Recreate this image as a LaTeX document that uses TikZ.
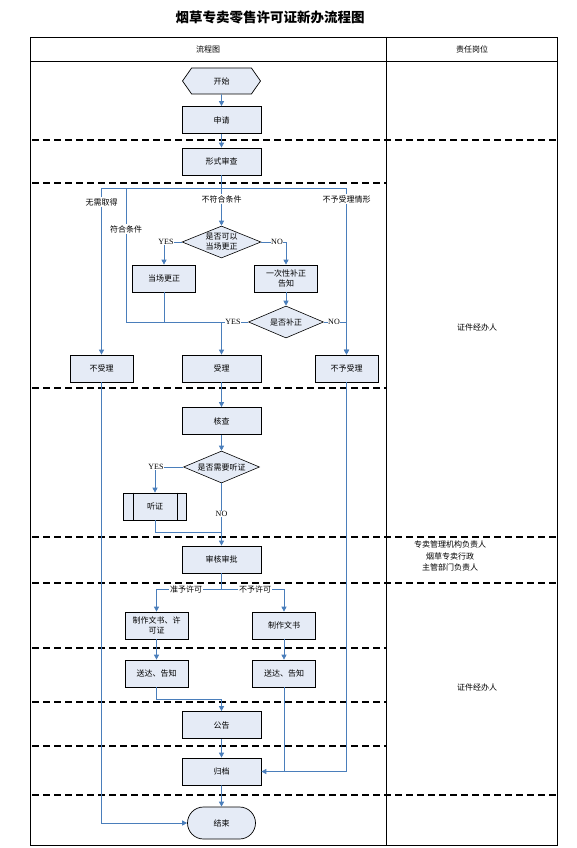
\documentclass[tikz,border=0pt]{standalone}
\usepackage{fontspec}
\setmainfont{Liberation Serif}
\newfontfamily\cjk{Noto Sans CJK SC}
\usetikzlibrary{arrows.meta, shapes.geometric, shapes.symbols, shapes.misc, calc}
\definecolor{lineblue}{RGB}{74,126,187}
\definecolor{boxfill}{RGB}{229,235,246}

\begin{document}
\begin{tikzpicture}[x=1pt, y=-1pt,
    txt/.style={font=\cjk\fontsize{8}{10}\selectfont, align=center},
    box/.style={txt, draw, fill=boxfill, line width=0.7pt, minimum width=79pt, minimum height=27pt, inner sep=1pt},
    sbox/.style={box, minimum width=63pt},
    dia/.style={txt, draw, fill=boxfill, line width=0.6pt, shape=diamond, inner sep=0pt, minimum width=79pt, minimum height=32pt, aspect=2.4},
    flow/.style={draw=lineblue, line width=0.8pt},
    arr/.style={flow, -{Triangle[length=5pt, width=5pt]}},
    lab/.style={txt, fill=white, inner sep=1pt},
    yn/.style={font=\fontsize{8}{9}\selectfont, fill=white, inner sep=0.5pt},
    laneline/.style={line width=1.4pt, dash pattern=on 7pt off 4pt}]
    \useasboundingbox (0,0) rectangle (576,848);

    \node[font=\cjk\bfseries\fontsize{13.5}{15}\selectfont] (title) at (270,17) {烟草专卖零售许可证新办流程图};
    \draw[line width=0.8pt] (30,37) rectangle (557,845);
    \draw[line width=0.8pt] (30,61) -- (557,61);
    \draw[line width=0.8pt] (386,37) -- (386,845);
    \node[txt] (hflow) at (208,49) {流程图};
    \node[txt] (hpost) at (472,49) {责任岗位};

    \foreach \y in {183, 388, 648, 702, 746} {
        \draw[laneline] (32,\y) -- (386,\y);
    }
    \foreach \y in {140, 537, 583, 795} {
        \draw[laneline] (32,\y) -- (557,\y);
    }

    \node[box, shape=signal, signal to=west and east, signal pointer angle=110, minimum width=78pt, minimum height=26pt] (start) at (221.5,81) {开始};
    \node[box] (apply) at (221.5,120) {申请};
    \node[box] (formal) at (221.5,161.5) {形式审查};
    \node[dia] (dia1) at (221.5,242) {是否可以\\当场更正};
    \node[sbox] (fix) at (164,278.5) {当场更正};
    \node[sbox] (notice) at (286,278.5) {一次性补正\\告知};
    \node[dia, minimum width=75pt] (dia2) at (286,322) {是否补正};
    \node[sbox] (reject) at (101.5,368.5) {不受理};
    \node[box] (accept) at (221.5,368.5) {受理};
    \node[sbox] (refuse) at (346.5,368.5) {不予受理};
    \node[box] (verify) at (221.5,421) {核查};
    \node[dia, minimum width=76pt] (dia3) at (221.5,467) {是否需要听证};
    \node[sbox] (hear) at (155,506.5) {听证};
    \draw[line width=0.7pt] ([xshift=10pt]hear.north west) -- ([xshift=10pt]hear.south west);
    \draw[line width=0.7pt] ([xshift=-10pt]hear.north east) -- ([xshift=-10pt]hear.south east);
    \node[box] (approve) at (221.5,559.5) {审核审批};
    \node[sbox] (makel) at (156.5,625.5) {制作文书、许\\可证};
    \node[sbox] (maker) at (284,625.5) {制作文书};
    \node[sbox] (sendl) at (156.5,673.5) {送达、告知};
    \node[sbox] (sendr) at (284,673.5) {送达、告知};
    \node[box] (announce) at (221.5,725) {公告};
    \node[box] (archive) at (221.5,771.5) {归档};
    \node[box, shape=rounded rectangle, minimum width=70pt, minimum height=32pt] (finish) at (221.5,823) {结束};

    \coordinate (cl) at (101.5,188);
    \coordinate (cm) at (126,188);
    \coordinate (ct) at (221.5,188);
    \coordinate (cr) at (346.5,188);
    \coordinate (yl) at (126,322);
    \coordinate (hj) at (221.5,532);
    \coordinate (aj) at (221.5,589);
    \coordinate (pj) at (221.5,699);

    \draw[arr] (start) -- (apply);
    \draw[arr] (apply) -- (formal);
    \draw[flow] (formal) -- (ct);
    \draw[flow] (cl) -- (cr);
    \draw[arr] (ct) -- (dia1);
    \draw[arr] (cl) -- (reject);
    \draw[arr] (cr) -- (refuse);
    \draw[flow] (cm) -- (yl);
    \draw[arr] (dia1.west) -| (fix);
    \draw[arr] (dia1.east) -| (notice);
    \draw[arr] (notice) -- (dia2);
    \draw[flow] (dia2.west) -- (yl);
    \draw[flow] (fix) -- (fix |- yl);
    \draw[arr] (accept |- yl) -- (accept);
    \draw[arr] (dia2.east) -| (refuse);

    \draw[arr] (accept) -- (verify);
    \draw[arr] (verify) -- (dia3);
    \draw[arr] (dia3.west) -| (hear);
    \draw[arr] (dia3) -- (approve);
    \draw[flow] (hear) |- (hj);
    \draw[flow] (approve) -- (aj);
    \draw[arr] (aj) -| (makel);
    \draw[arr] (aj) -| (maker);
    \draw[arr] (makel) -- (sendl);
    \draw[arr] (maker) -- (sendr);
    \draw[arr] (sendl) |- (pj) -- (announce);
    \draw[arr] (announce) -- (archive);
    \draw[arr] (archive) -- (finish);
    \draw[flow] (sendr) -- (sendr |- archive);
    \draw[arr] (refuse) |- (archive);
    \draw[arr] (reject) |- (finish);

    \node[lab] (lnone) at (101.5,202) {无需取得};
    \node[lab] (lfail) at (221.5,199) {不符合条件};
    \node[lab] (lcase) at (346.5,199) {不予受理情形};
    \node[lab] (lpass) at (126,229) {符合条件};
    \node[yn] (y1) at (166,242) {YES};
    \node[yn] (n1) at (277,242) {NO};
    \node[yn] (y2) at (233,322) {YES};
    \node[yn] (n2) at (334,322) {NO};
    \node[yn] (y3) at (156,467) {YES};
    \node[yn] (n3) at (221.5,514) {NO};
    \node[lab] (lgrant) at (186,589) {准予许可};
    \node[lab] (ldeny) at (255,589) {不予许可};

    \node[txt] (post1) at (477,327) {证件经办人};
    \node[txt, font=\cjk\fontsize{8}{11.5}\selectfont] (post2) at (450,556) {专卖管理机构负责人\\烟草专卖行政\\主管部门负责人};
    \node[txt] (post3) at (477,687) {证件经办人};
\end{tikzpicture}
\end{document}
